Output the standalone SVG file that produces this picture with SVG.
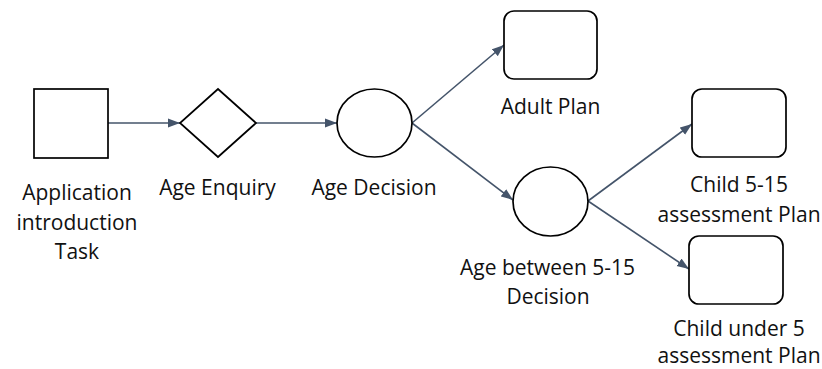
<svg xmlns="http://www.w3.org/2000/svg" width="822" height="369" viewBox="0 0 822 369">
  <style>
    .shape { fill: #ffffff; stroke: #000000; stroke-width: 1.7; }
    .conn { fill: none; stroke: #44546A; stroke-width: 1.6; marker-end: url(#arrow); }
    .label { font-family: "Open Sans", "Liberation Sans", sans-serif; font-size: 21px; fill: #111111; text-anchor: middle; }
  </style>
  <defs>
    <marker id="arrow" viewBox="0 0 12 10" refX="12" refY="5" markerWidth="12" markerHeight="10" markerUnits="userSpaceOnUse" orient="auto">
      <path d="M0,0.5 L12,5 L0,9.5 Z" fill="#44546A"/>
    </marker>
  </defs>
  <rect width="822" height="369" fill="#ffffff"/>

  <g id="connectors">
    <line class="conn" x1="108" y1="123" x2="180" y2="123"/>
    <line class="conn" x1="256" y1="123" x2="337" y2="123"/>
    <line class="conn" x1="412" y1="123" x2="504" y2="45"/>
    <line class="conn" x1="412" y1="123" x2="513" y2="200"/>
    <line class="conn" x1="588" y1="201" x2="692" y2="124"/>
    <line class="conn" x1="588" y1="201" x2="689" y2="269"/>
  </g>

  <g id="app-intro-task">
    <rect class="shape" x="34" y="89" width="74" height="69"/>
    <text class="label" x="77" y="200">Application</text>
    <text class="label" x="77" y="230">introduction</text>
    <text class="label" x="77" y="259">Task</text>
  </g>

  <g id="age-enquiry">
    <polygon class="shape" points="218,89 256,123 218,157 180,123"/>
    <text class="label" x="217.5" y="195">Age Enquiry</text>
  </g>

  <g id="age-decision">
    <ellipse class="shape" cx="374.5" cy="123" rx="37.5" ry="34"/>
    <text class="label" x="374" y="195">Age Decision</text>
  </g>

  <g id="adult-plan">
    <rect class="shape" x="504" y="11" width="93" height="68" rx="10"/>
    <text class="label" x="550.5" y="114">Adult Plan</text>
  </g>

  <g id="age-between-decision">
    <ellipse class="shape" cx="550.5" cy="201.5" rx="37.5" ry="34.5"/>
    <text class="label" x="547.5" y="275">Age between 5-15</text>
    <text class="label" x="548" y="304">Decision</text>
  </g>

  <g id="child-5-15-plan">
    <rect class="shape" x="692" y="89" width="94" height="68" rx="10"/>
    <text class="label" x="739" y="192">Child 5-15</text>
    <text class="label" x="739" y="222">assessment Plan</text>
  </g>

  <g id="child-under-5-plan">
    <rect class="shape" x="689" y="236" width="94" height="68" rx="10"/>
    <text class="label" x="739" y="336">Child under 5</text>
    <text class="label" x="739" y="363">assessment Plan</text>
  </g>
</svg>
